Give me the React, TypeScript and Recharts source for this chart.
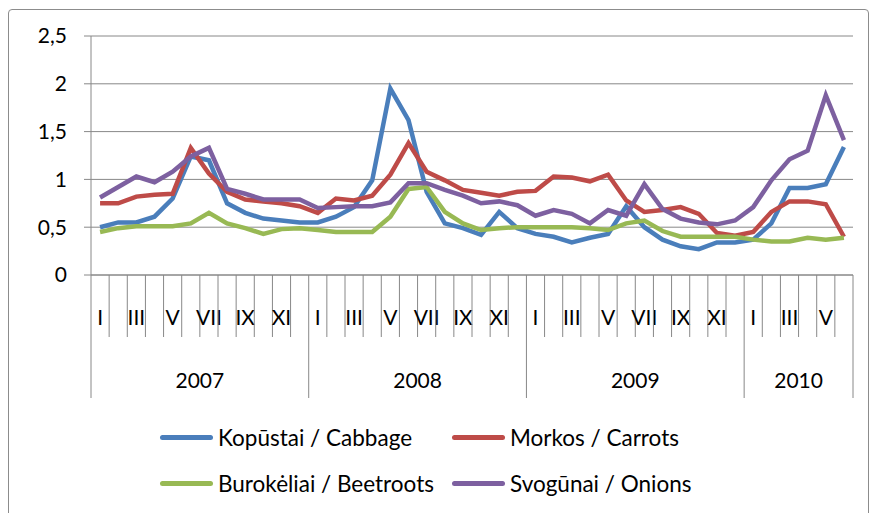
import React from 'react';
import { LineChart, Line, XAxis, YAxis, CartesianGrid, Legend } from 'recharts';

const years = ['2007', '2008', '2009', '2010'];
const monthsPerYear = [12, 12, 12, 6];
const monthNames = ['I', 'II', 'III', 'IV', 'V', 'VI', 'VII', 'VIII', 'IX', 'X', 'XI', 'XII'];

const cabbage = [
  0.50, 0.55, 0.55, 0.61, 0.80, 1.24, 1.20, 0.75, 0.65, 0.59, 0.57, 0.55,
  0.55, 0.61, 0.71, 0.99, 1.95, 1.62, 0.87, 0.54, 0.49, 0.42, 0.66, 0.49,
  0.43, 0.40, 0.34, 0.39, 0.43, 0.72, 0.50, 0.37, 0.30, 0.27, 0.34, 0.34,
  0.37, 0.54, 0.91, 0.91, 0.95, 1.34,
];
const carrots = [
  0.75, 0.75, 0.82, 0.84, 0.85, 1.33, 1.06, 0.87, 0.79, 0.77, 0.75, 0.72,
  0.65, 0.80, 0.78, 0.83, 1.05, 1.38, 1.08, 0.99, 0.89, 0.86, 0.83, 0.87,
  0.88, 1.03, 1.02, 0.98, 1.05, 0.78, 0.66, 0.68, 0.71, 0.64, 0.44, 0.41,
  0.45, 0.66, 0.77, 0.77, 0.74, 0.40,
];
const beetroots = [
  0.45, 0.49, 0.51, 0.51, 0.51, 0.54, 0.65, 0.54, 0.49, 0.43, 0.48, 0.49,
  0.47, 0.45, 0.45, 0.45, 0.61, 0.90, 0.92, 0.66, 0.54, 0.47, 0.49, 0.50,
  0.50, 0.50, 0.50, 0.49, 0.47, 0.54, 0.57, 0.46, 0.40, 0.40, 0.40, 0.40,
  0.37, 0.35, 0.35, 0.39, 0.37, 0.39,
];
const onions = [
  0.81, 0.92, 1.03, 0.97, 1.08, 1.24, 1.33, 0.90, 0.85, 0.79, 0.79, 0.79,
  0.70, 0.71, 0.72, 0.72, 0.76, 0.96, 0.96, 0.89, 0.83, 0.75, 0.77, 0.73,
  0.62, 0.68, 0.64, 0.54, 0.68, 0.62, 0.95, 0.69, 0.59, 0.55, 0.53, 0.57,
  0.71, 0.99, 1.21, 1.30, 1.88, 1.41,
];
const yTicks = [0, 0.5, 1, 1.5, 2, 2.5];

const series = [
  { key: 'cabbage', name: 'Kopūstai / Cabbage', color: '#4A7EBB' },
  { key: 'carrots', name: 'Morkos / Carrots', color: '#BE4B48' },
  { key: 'beetroots', name: 'Burokėliai / Beetroots', color: '#98B954' },
  { key: 'onions', name: 'Svogūnai / Onions', color: '#7D60A0' },
];

// one row per month
const rows: any[] = [];
years.forEach((yr, yi) => {
  for (let m = 0; m < monthsPerYear[yi]; m++) {
    const i = rows.length;
    rows.push({
      idx: i,
      year: yr,
      month: m,
      cabbage: cabbage[i],
      carrots: carrots[i],
      beetroots: beetroots[i],
      onions: onions[i],
    });
  }
});

const W = 874;
const H = 513;
const PLOT_LEFT = 91;
const PLOT_RIGHT = 853;
const PLOT_TOP = 36;
const PLOT_BOTTOM = 275;
const STEP = (PLOT_RIGHT - PLOT_LEFT) / rows.length;
const FONT = 'Lato, "Open Sans", sans-serif';
const GRID = '#888888';

function MonthTick(props: any) {
  const { x, y, payload } = props;
  const row = rows[payload.value];
  const left = x - STEP / 2;
  const isFirst = row.month === 0;
  const isLast = row.idx === rows.length - 1;
  const yi = years.indexOf(row.year);
  return (
    <g>
      <line x1={left} x2={left} y1={y} y2={isFirst ? y + 123 : y + 62} stroke={GRID} strokeWidth={1} />
      {isLast && <line x1={x + STEP / 2} x2={x + STEP / 2} y1={y} y2={y + 123} stroke={GRID} strokeWidth={1} />}
      {row.month % 2 === 0 && (
        <text x={x} y={y + 50} textAnchor="middle" fontSize={21} fontFamily={FONT} fill="#000">
          {monthNames[row.month]}
        </text>
      )}
      {isFirst && (
        <text x={left + (monthsPerYear[yi] * STEP) / 2} y={y + 113} textAnchor="middle" fontSize={21} fontFamily={FONT} fill="#000">
          {row.year}
        </text>
      )}
    </g>
  );
}

function LegendBox() {
  const pos = [
    { x: 160, y: 437 },
    { x: 452, y: 437 },
    { x: 160, y: 483 },
    { x: 452, y: 483 },
  ];
  return (
    <div style={{ position: 'relative', width: W, height: 90 }}>
      {series.map((s, i) => (
        <div
          key={s.key}
          style={{
            position: 'absolute',
            left: pos[i].x,
            top: pos[i].y - 420 - 14,
            height: 28,
            display: 'flex',
            alignItems: 'center',
            whiteSpace: 'nowrap',
          }}
        >
          <span style={{ display: 'inline-block', width: 53, height: 5, borderRadius: 3, background: s.color, marginRight: 5 }} />
          <span style={{ fontFamily: FONT, fontSize: 22.5, color: '#000' }}>{s.name}</span>
        </div>
      ))}
    </div>
  );
}

export default function App() {
  return (
    <div style={{ position: 'absolute', left: 0, top: 0, width: W, height: H, overflow: 'hidden', background: '#fff' }}>
      <div style={{ position: 'absolute', left: 8, top: 9, width: 859, height: 530, border: '1px solid #8c8c8c', borderRadius: 4 }} />
      <LineChart
        width={W}
        height={H}
        data={rows}
        margin={{ top: PLOT_TOP, right: W - PLOT_RIGHT, left: 0, bottom: H - PLOT_BOTTOM - 123 }}
        style={{ position: 'absolute', left: 0, top: 0 }}
      >
        <CartesianGrid vertical={false} stroke={GRID} strokeWidth={1} />
        <XAxis
          dataKey="idx"
          interval={0}
          height={123}
          tickSize={0}
          tickMargin={0}
          tickLine={false}
          axisLine={{ stroke: GRID }}
          padding={{ left: STEP / 2, right: STEP / 2 }}
          tick={<MonthTick />}
        />
        <YAxis
          width={PLOT_LEFT}
          domain={[0, 2.5]}
          ticks={yTicks}
          tickSize={7}
          tickMargin={17}
          axisLine={{ stroke: GRID }}
          tickLine={{ stroke: GRID }}
          tickFormatter={(v: number) => String(v).replace('.', ',')}
          tick={{ fontSize: 21, fontFamily: FONT, fill: '#000' }}
        />
        {series.map((s) => (
          <Line
            key={s.key}
            type="linear"
            dataKey={s.key}
            name={s.name}
            stroke={s.color}
            strokeWidth={4.5}
            dot={false}
            isAnimationActive={false}
          />
        ))}
        <Legend verticalAlign="middle" wrapperStyle={{ top: 420, left: 0, width: W }} content={<LegendBox />} />
      </LineChart>
    </div>
  );
}
